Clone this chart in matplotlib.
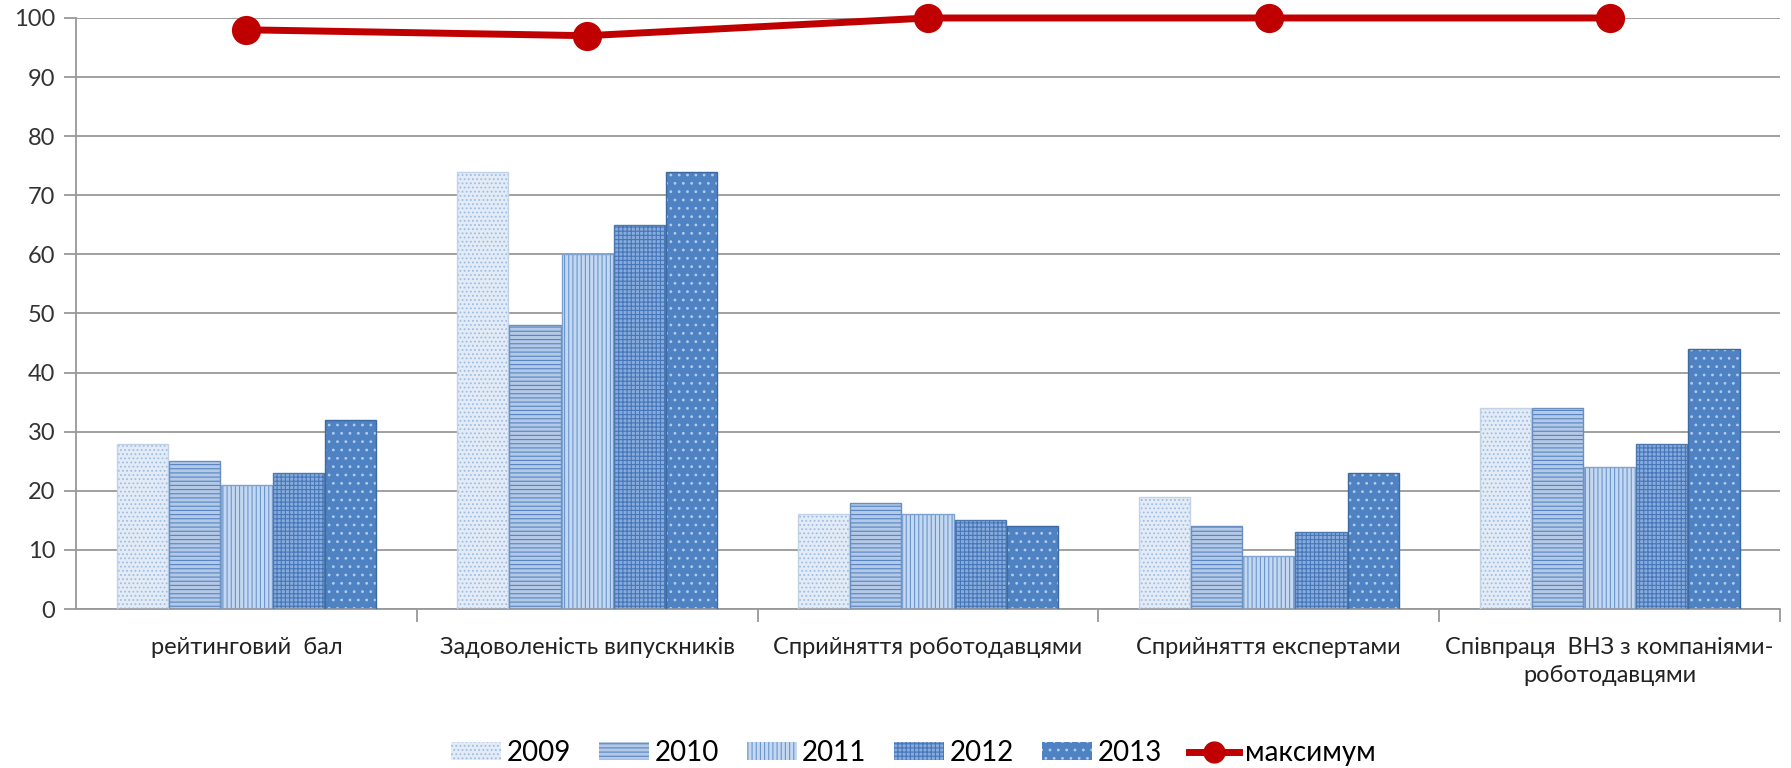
import matplotlib
matplotlib.use("Agg")
import matplotlib.pyplot as plt
import numpy as np

# значення зчитані з діаграми
categories = ["рейтинговий  бал", "Задоволеність випускників", "Сприйняття роботодавцями",
              "Сприйняття експертами", "Співпраця  ВНЗ з компаніями-\nроботодавцями"]
years = ["2009", "2010", "2011", "2012", "2013"]
v2009 = [28, 74, 16, 19, 34]
v2010 = [25, 48, 18, 14, 34]
v2011 = [21, 60, 16, 9, 24]
v2012 = [23, 65, 15, 13, 28]
v2013 = [32, 74, 14, 23, 44]
maximum = [98, 97, 100, 100, 100]

series = [v2009, v2010, v2011, v2012, v2013]
faces = ["#e2ebf6", "#b3c9e6", "#c4d8f1", "#86abdc", "#4f82c2"]
hatch_cols = ["#9fbde4", "#5784c2", "#6a96cc", "#4676b8", "#b3cced"]
hatches = ["....", "----", "||||", "++++", ".."]
edges = ["#c2d3e8", "#6a8fc0", "#7fa2cf", "#4d78ad", "#3d6aa3"]

plt.rcParams["font.family"] = ["Lato", "DejaVu Sans"]
plt.rcParams["hatch.linewidth"] = 0.8

fig = plt.figure(figsize=(17.91, 7.68), dpi=100)
ax = fig.add_axes([0.0424, 0.207, 0.9515, 0.7696])

x = np.arange(len(categories))
w = 0.153
handles = []
for i, vals in enumerate(series):
    pos = x + (i - 2) * w
    ax.bar(pos, vals, w * 0.98, color=faces[i], edgecolor=hatch_cols[i],
           hatch=hatches[i], linewidth=0, zorder=2)
    ax.bar(pos, vals, w * 0.98, facecolor="none", edgecolor=edges[i],
           linewidth=1.0, zorder=3)
    h = matplotlib.patches.Patch(facecolor=faces[i], edgecolor=hatch_cols[i],
                                 hatch=hatches[i], linewidth=0)
    handles.append(h)

line, = ax.plot(x, maximum, color="#c00000", linewidth=5, marker="o",
                markersize=20, zorder=4, clip_on=False)
handles.append(line)

ax.set_xlim(-0.5, len(categories) - 0.5)
ax.set_ylim(0, 100)
ax.set_yticks(range(0, 101, 10))
ax.yaxis.grid(True, color="#999999", linewidth=1.3)
ax.set_axisbelow(True)
for s in ["top", "right"]:
    ax.spines[s].set_visible(False)
for s in ["left", "bottom"]:
    ax.spines[s].set_color("#999999")
    ax.spines[s].set_linewidth(1.3)

ax.set_xticks(x)
ax.set_xticklabels(categories, fontsize=17, color="#222222", linespacing=1.4)
ax.tick_params(axis="x", length=0, pad=20)
ax.set_xticks(np.arange(0.5, len(categories), 1), minor=True)
ax.tick_params(axis="x", which="minor", length=9, color="#999999", width=1.3)
ax.tick_params(axis="y", length=9, color="#999999", width=1.3, labelsize=17,
               labelcolor="#333333", pad=6)

fig.legend(handles, years + ["максимум"], loc="lower center", ncol=6,
           bbox_to_anchor=(0.51, -0.03), frameon=False, fontsize=20,
           handlelength=1.8, handleheight=0.6, columnspacing=1.0, handletextpad=0.2,
           markerscale=0.75)

fig.savefig("out.png", dpi=100)
